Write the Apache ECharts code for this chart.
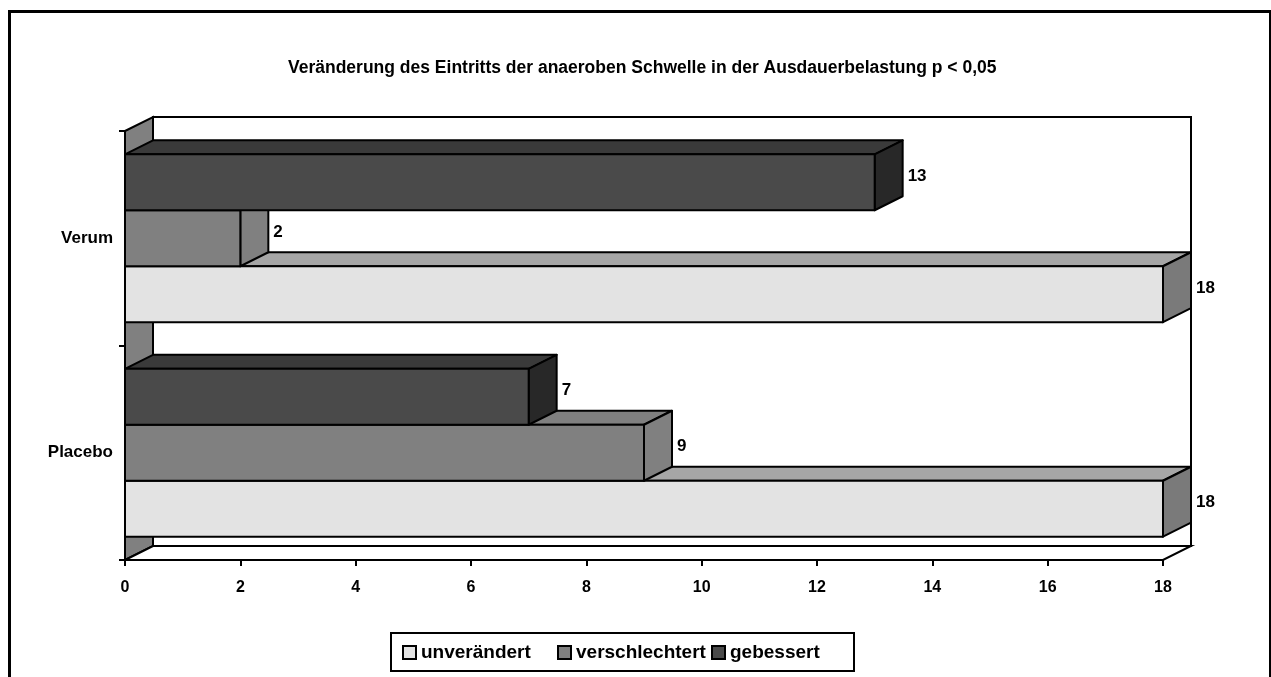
<!DOCTYPE html>
<html>
<head>
<meta charset="utf-8">
<script src="https://cdn.jsdelivr.net/npm/echarts@6/dist/echarts.min.js"></script>
<style>
html,body{margin:0;padding:0;background:#fff;}
#chart{width:1271px;height:677px;}
</style>
</head>
<body>
<div id="chart"></div>
<script>
// ---- data ----
const titleText = 'Veränderung des Eintritts der anaeroben Schwelle in der Ausdauerbelastung p < 0,05';
const categories = ['Verum', 'Placebo'];
const seriesNames = ['unverändert', 'verschlechtert', 'gebessert'];
const unveraendert = [18, 18];
const verschlechtert = [2, 9];
const gebessert = [13, 7];
const xTicks = [0, 2, 4, 6, 8, 10, 12, 14, 16, 18];

// ---- style ----
const FONT = "'Liberation Sans Narrow', 'Arial Narrow', 'Liberation Sans', Arial, sans-serif";
const DX = 28, DY = 14;
const faces = [
  { front: '#E3E3E3', top: '#A6A6A6', side: '#7A7A7A' },
  { front: '#808080', top: '#808080', side: '#808080' },
  { front: '#4A4A4A', top: '#3A3A3A', side: '#282828' }
];
const slotShift = [1, 0, -1]; // unverändert bottom, verschlechtert middle, gebessert top
const legendLeft = [402, 557, 711];

function barRenderer(k) {
  return function (params, api) {
    const v = api.value(0);
    const c = api.value(1);
    const p0 = api.coord([0, c]);
    const p1 = api.coord([v, c]);
    const band = api.size([0, 1])[1];
    const h = band * 0.261;
    const cy = p0[1] + slotShift[k] * h;
    const top = cy - h / 2, bot = cy + h / 2;
    const x0 = p0[0], x1 = p1[0];
    const f = faces[k];
    const st = { stroke: '#000', lineWidth: 2, lineJoin: 'round' };
    return {
      type: 'group',
      children: [
        { type: 'polygon', shape: { points: [[x0, top], [x1, top], [x1 + DX, top - DY], [x0 + DX, top - DY]] },
          style: Object.assign({ fill: f.top }, st) },
        { type: 'polygon', shape: { points: [[x1, top], [x1 + DX, top - DY], [x1 + DX, bot - DY], [x1, bot]] },
          style: Object.assign({ fill: f.side }, st) },
        { type: 'rect', shape: { x: x0, y: top, width: x1 - x0, height: h },
          style: Object.assign({ fill: f.front }, st) },
        { type: 'text', x: x1 + DX + 5, y: cy - DY / 2 + 1,
          style: { text: String(v), fill: '#000', font: 'bold 17px ' + FONT, verticalAlign: 'middle', align: 'left' } }
      ]
    };
  };
}

function wallRenderer(params, api) {
  const cs = params.coordSys;
  const x = cs.x, y = cs.y, w = cs.width, h = cs.height;
  const st = { stroke: '#000', lineWidth: 2 };
  return {
    type: 'group',
    children: [
      { type: 'rect', shape: { x: x + DX, y: y - DY, width: w, height: h }, style: Object.assign({ fill: '#fff' }, st) },
      { type: 'polygon', shape: { points: [[x, y], [x + DX, y - DY], [x + DX, y + h - DY], [x, y + h]] }, style: Object.assign({ fill: '#808080' }, st) },
      { type: 'polygon', shape: { points: [[x, y + h], [x + w, y + h], [x + w + DX, y + h - DY], [x + DX, y + h - DY]] }, style: Object.assign({ fill: '#fff' }, st) }
    ]
  };
}

const valueSets = [unveraendert, verschlechtert, gebessert];
const series = [{
  type: 'custom', name: '_walls', renderItem: wallRenderer, data: [[0, 0]], silent: true, z: 1,
  encode: { x: 0, y: 1 }
}];
seriesNames.forEach(function (name, k) {
  series.push({
    type: 'custom', name: name, z: 2 + k,
    renderItem: barRenderer(k),
    itemStyle: { color: faces[k].front },
    encode: { x: 0, y: 1 },
    data: categories.map(function (c, i) { return [valueSets[k][i], i]; })
  });
});

const legends = seriesNames.map(function (n, k) {
  return {
    data: [n], left: legendLeft[k], top: 643,
    icon: 'rect', itemWidth: 13, itemHeight: 13, itemGap: 0, padding: 0,
    itemStyle: { borderColor: '#000', borderWidth: 2 },
    textStyle: { fontFamily: FONT, fontWeight: 'bold', fontSize: 19, color: '#000' }
  };
});

const chart = echarts.init(document.getElementById('chart'), null, { renderer: 'canvas' });
chart.setOption({
  animation: false,
  backgroundColor: '#fff',
  graphic: [{
    type: 'rect', shape: { x: 9.5, y: 11.5, width: 1261, height: 700 },
    style: { fill: 'none', stroke: '#000', lineWidth: 3 }, z: 100
  }, {
    type: 'rect', shape: { x: 391, y: 633, width: 463, height: 38 },
    style: { fill: 'none', stroke: '#000', lineWidth: 2 }, z: 100
  }],
  title: {
    text: titleText, left: 283, top: 54,
    textStyle: { fontFamily: FONT, fontWeight: 'bold', fontSize: 17.5, color: '#000' }
  },
  legend: legends,
  grid: { left: 125, top: 131, right: 108, bottom: 117, containLabel: false },
  xAxis: {
    type: 'value', min: 0, max: 18, interval: 2,
    splitLine: { show: false },
    axisLine: { show: true, lineStyle: { color: '#000', width: 2 } },
    axisTick: { show: true, length: 6, lineStyle: { color: '#000', width: 2 } },
    axisLabel: { margin: 20, fontFamily: FONT, fontWeight: 'bold', fontSize: 16, color: '#000',
      formatter: function (v) { return xTicks.indexOf(v) >= 0 ? String(v) : ''; } }
  },
  yAxis: {
    type: 'category', data: categories, inverse: true,
    axisLine: { show: true, lineStyle: { color: '#000', width: 2 } },
    axisTick: { show: true, length: 6, lineStyle: { color: '#000', width: 2 } },
    axisLabel: { margin: 12, fontFamily: FONT, fontWeight: 'bold', fontSize: 17, color: '#000' },
    splitLine: { show: false }
  },
  series: series
});
</script>
</body>
</html>
